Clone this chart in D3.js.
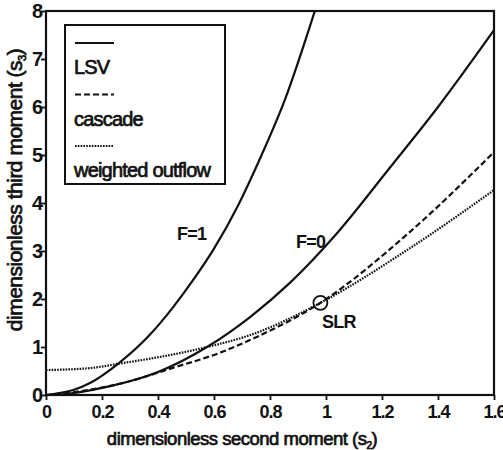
<!DOCTYPE html>
<html>
<head>
<meta charset="utf-8">
<script src="https://cdn.jsdelivr.net/npm/d3@7"></script>
<style>
  body { margin: 0; background: #fff; }
  text { font-family: "Liberation Sans", Arial, sans-serif; fill: #111; }
</style>
</head>
<body>
<svg id="chart" width="503" height="450"></svg>
<script>
// values (s2 -> s3)
const f1X = [0, 0.025, 0.1, 0.157, 0.257, 0.37, 0.45, 0.52, 0.6, 0.686, 0.77, 0.853, 0.96];
const f1Y = [0, 0.02, 0.11, 0.25, 0.65, 1.25, 1.8, 2.35, 3.05, 3.95, 5.0, 6.15, 8.0];

const f0X = [0, 0.05, 0.217, 0.4, 0.575, 0.73, 0.87, 1.04, 1.23, 1.4, 1.6];
const f0Y = [0, 0.01, 0.17, 0.48, 1.0, 1.63, 2.33, 3.375, 4.75, 6.0, 7.6];

const cascadeX = [0, 0.1, 0.275, 0.45, 0.63, 0.73, 0.98, 1.3, 1.6];
const cascadeY = [0, 0.06, 0.25, 0.56, 0.9, 1.15, 1.92, 3.4, 5.06];

const outflowX = [0, 0.157, 0.257, 0.45, 0.575, 0.73, 0.98, 1.3, 1.6];
const outflowY = [0.52, 0.56, 0.65, 0.84, 1.0, 1.25, 1.92, 3.06, 4.27];

const slr = [0.98, 1.92];

const xTicks = [0, 0.2, 0.4, 0.6, 0.8, 1, 1.2, 1.4, 1.6];
const yTicks = [0, 1, 2, 3, 4, 5, 6, 7, 8];
const legendNames = ["LSV", "cascade", "weighted outflow"];

const svg = d3.select("#chart");
const x = d3.scaleLinear().domain([0, 1.6]).range([46, 494]);
const y = d3.scaleLinear().domain([0, 8]).range([395, 11]);

const zip = (a, b) => a.map((v, i) => [v, b[i]]);
const line = d3.line().x(d => x(d[0])).y(d => y(d[1])).curve(d3.curveMonotoneX);

// axes
const xAxis = svg.append("g")
  .attr("transform", `translate(0,${y(0)})`)
  .call(d3.axisBottom(x).tickValues(xTicks).tickSize(5).tickSizeOuter(0)
    .tickFormat(d => d === 0 || d === 1 ? d3.format("d")(d) : d3.format(".1f")(d)));
xAxis.selectAll("text").attr("font-size", 18).attr("font-weight", "bold").attr("dy", "0.85em")
  .style("letter-spacing", "-1px");

const yAxis = svg.append("g")
  .attr("transform", `translate(${x(0)},0)`)
  .call(d3.axisLeft(y).tickValues(yTicks).tickSize(5).tickSizeOuter(0));
yAxis.selectAll("text").attr("font-size", 20).attr("font-weight", "bold").attr("x", -3);

svg.selectAll(".domain").remove();
svg.selectAll(".tick line").attr("stroke", "#111").attr("stroke-width", 1.8);

// frame
svg.append("rect")
  .attr("x", x(0)).attr("y", y(8))
  .attr("width", x(1.6) - x(0)).attr("height", y(0) - y(8))
  .attr("fill", "none").attr("stroke", "#111").attr("stroke-width", 2.2);

// curves
const curves = [
  { pts: zip(f1X, f1Y), dash: null },
  { pts: zip(f0X, f0Y), dash: null },
  { pts: zip(cascadeX, cascadeY), dash: "6,3" },
  { pts: zip(outflowX, outflowY), dash: "1.6,1.2" }
];
svg.append("g").selectAll("path")
  .data(curves)
  .join("path")
  .attr("d", d => line(d.pts))
  .attr("fill", "none")
  .attr("stroke", "#111")
  .attr("stroke-width", 2.2)
  .attr("stroke-dasharray", d => d.dash);

// SLR marker
svg.append("circle")
  .attr("cx", x(slr[0])).attr("cy", y(slr[1])).attr("r", 7)
  .attr("fill", "none").attr("stroke", "#111").attr("stroke-width", 1.8);

const labelStyle = s => s.attr("font-size", 18).attr("font-weight", "bold")
  .style("letter-spacing", "-0.8px");
svg.append("text").attr("x", 177).attr("y", 240).text("F=1").call(labelStyle);
svg.append("text").attr("x", 296).attr("y", 248).text("F=0").call(labelStyle);
svg.append("text").attr("x", 322).attr("y", 328).text("SLR").call(labelStyle);

// legend
const lg = svg.append("g");
lg.append("rect").attr("x", 65).attr("y", 25).attr("width", 160).attr("height", 159)
  .attr("fill", "#fff").attr("stroke", "#111").attr("stroke-width", 2);
const dashes = [null, "6,3", "1.6,1.2"];
legendNames.forEach((name, i) => {
  const top = 43 + i * 51.5;
  lg.append("line").attr("x1", 75).attr("x2", 114).attr("y1", top).attr("y2", top)
    .attr("stroke", "#111").attr("stroke-width", 2).attr("stroke-dasharray", dashes[i]);
  lg.append("text").attr("x", 74).attr("y", top + 31).text(name)
    .attr("font-size", 20).style("letter-spacing", "-0.8px")
    .attr("stroke", "#111").attr("stroke-width", 0.7);
});

// axis titles
const xt = svg.append("text").attr("x", 242).attr("y", 445).attr("text-anchor", "middle")
  .attr("font-size", 18.5).style("letter-spacing", "-0.5px")
  .attr("stroke", "#111").attr("stroke-width", 0.7);
xt.append("tspan").text("dimensionless second moment (s");
xt.append("tspan").attr("font-size", 10).attr("dy", 4).text("2");
xt.append("tspan").attr("dy", -4).text(")");

const yt = svg.append("text").attr("transform", "translate(22,190) rotate(-90)")
  .attr("text-anchor", "middle").attr("font-size", 21).style("letter-spacing", "-0.5px")
  .attr("stroke", "#111").attr("stroke-width", 0.7);
yt.append("tspan").text("dimensionless third moment (s");
yt.append("tspan").attr("font-size", 11).attr("dy", 4).text("3");
yt.append("tspan").attr("dy", -4).text(")");
</script>
</body>
</html>
